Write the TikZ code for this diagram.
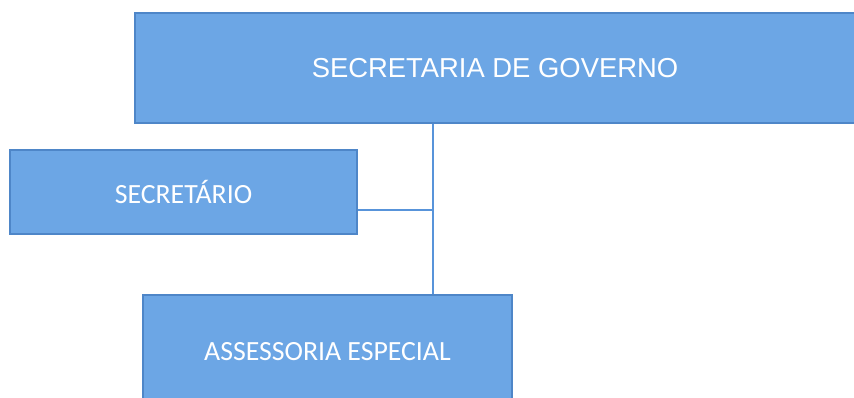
\documentclass[tikz,border=0pt]{standalone}
\usepackage{fontspec}
\setmainfont{Carlito}
\newfontfamily\arialfont{Liberation Sans}
\definecolor{boxfill}{RGB}{108,166,229}
\definecolor{boxedge}{RGB}{78,134,200}
\definecolor{linkblue}{RGB}{88,148,218}
\tikzset{
    orgbox/.style={draw=boxedge,line width=2.5pt,fill=boxfill,text=white,
        inner sep=0pt,font=\fontsize{27.8}{32}\selectfont},
    orglink/.style={draw=linkblue,line width=1.5pt}
}
\begin{document}
\begin{tikzpicture}[x=1pt,y=-1pt]
        \useasboundingbox (0,0) rectangle (854,397);
        \clip (0,0) rectangle (854,397);
        \node [orgbox,minimum width=720pt,minimum height=110pt,font=\arialfont\fontsize{27.4}{32}\selectfont] (gov) at (495,68) {SECRETARIA DE GOVERNO};
        \node [orgbox,minimum width=347pt,minimum height=84pt] (sec) at (183.5,192) {SECRET\'ARIO};
        \node [orgbox,minimum width=369pt,minimum height=114pt] (assess) at (327.5,352) {ASSESSORIA ESPECIAL};
        \coordinate (j) at (433,210);
        \draw [orglink] (gov.south -| j) -- (j) -- (assess.north -| j);
        \draw [orglink] (sec.east |- j) -- (j);
    \end{tikzpicture}
\end{document}
